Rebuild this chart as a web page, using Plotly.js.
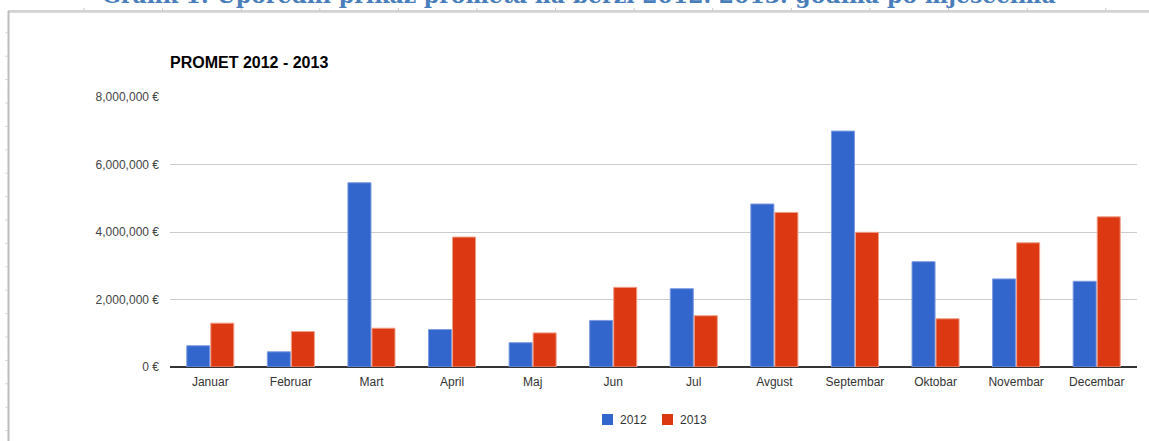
<!DOCTYPE html>
<html>
<head>
<meta charset="utf-8">
<script src="https://cdn.plot.ly/plotly-3.0.1.min.js"></script>
<style>html,body{margin:0;padding:0;background:#fff;}#chart{width:1149px;height:441px;}</style>
</head>
<body>
<div id="chart"></div>
<script>
// ---- data ----
const months = ['Januar','Februar','Mart','April','Maj','Jun','Jul','Avgust','Septembar','Oktobar','Novembar','Decembar'];
const seriesNames = ['2012','2013'];
const seriesColors = ['#3366cc','#dc3912'];
const promet2012 = [630000, 450000, 5460000, 1110000, 720000, 1380000, 2320000, 4830000, 6990000, 3120000, 2610000, 2540000];
const promet2013 = [1300000, 1050000, 1150000, 3850000, 1010000, 2360000, 1520000, 4580000, 3990000, 1430000, 3680000, 4450000];
const yTicks = [0, 2000000, 4000000, 6000000, 8000000];
const yTickText = yTicks.map(v => v.toLocaleString('en-US') + ' \u20AC');
const chartTitle = 'PROMET 2012 - 2013';
const docCaption = 'Grafik 1: Uporedni prikaz prometa na berzi 2012. 2013. godina po mjesecima';

// ---- layout geometry (pixels) ----
const W = 1149, H = 441;
const M = {l: 170, r: 12, t: 97, b: 74, autoexpand: false};
const pw = W - M.l - M.r, ph = H - M.t - M.b;
const px = x => (x - M.l) / pw;
const py = y => (H - M.b - y) / ph;

const FONT = 'Liberation Sans, Arial, sans-serif';

const traces = [
  {type: 'bar', name: seriesNames[0], x: months, y: promet2012,
   marker: {color: seriesColors[0], line: {color: '#7d9be0', width: 1}}},
  {type: 'bar', name: seriesNames[1], x: months, y: promet2013,
   marker: {color: seriesColors[1], line: {color: '#f0a08a', width: 1}}}
];

// page frame decorations (document ruler-like lines)
const shapes = [];
shapes.push({type:'line', xref:'paper', yref:'paper', x0:px(8), x1:px(W), y0:py(11), y1:py(11), line:{color:'#a8a8a8', width:1}});
shapes.push({type:'line', xref:'paper', yref:'paper', x0:px(8), x1:px(W), y0:py(12.5), y1:py(12.5), line:{color:'#dcdcdc', width:1}});
shapes.push({type:'line', xref:'paper', yref:'paper', x0:px(8.5), x1:px(8.5), y0:py(11), y1:py(H), line:{color:'#bdbdbd', width:2}});
for (let k = 0; k < 18; k++) {
  const yy = 32.8 + 23.4 * k;
  shapes.push({type:'line', xref:'paper', yref:'paper', x0:px(5.5), x1:px(7.5), y0:py(yy), y1:py(yy), line:{color:'#c8c8c8', width:1}});
}
for (let k = 0; k < 14; k++) {
  const xx = 84 + 78.6 * k;
  shapes.push({type:'line', xref:'paper', yref:'paper', x0:px(xx), x1:px(xx), y0:py(8), y1:py(11), line:{color:'#c8c8c8', width:1}});
}

// custom legend (compact: small gap between swatch and label)
const legendItems = [{sx: 602, tx: 618}, {sx: 662, tx: 678}];
const annotations = [
  {text: '<b>' + docCaption + '</b>', xref: 'paper', yref: 'paper', x: px(579), y: py(-5), xanchor: 'center', yanchor: 'middle',
   showarrow: false, font: {family: 'DejaVu Serif, serif', size: 22, color: '#4a7ebb'}}
];
legendItems.forEach((it, i) => {
  shapes.push({type: 'rect', xref: 'paper', yref: 'paper', x0: px(it.sx), x1: px(it.sx + 11), y0: py(414), y1: py(425),
               fillcolor: seriesColors[i], line: {width: 0}});
  annotations.push({text: seriesNames[i], xref: 'paper', yref: 'paper', x: px(it.tx), y: py(420), xanchor: 'left', yanchor: 'middle',
                    showarrow: false, font: {family: FONT, size: 12, color: '#333'}});
});

const layout = {
  width: W, height: H,
  margin: M,
  paper_bgcolor: '#ffffff', plot_bgcolor: '#ffffff',
  font: {family: FONT, size: 12, color: '#333'},
  title: {text: '<b>' + chartTitle + '</b>', font: {family: FONT, size: 16, color: '#000'},
          x: 0, xref: 'paper', xanchor: 'left', y: 1 - 62 / H, yref: 'container', yanchor: 'middle'},
  barmode: 'group', bargap: 0.404, bargroupgap: 0.04,
  xaxis: {type: 'category', showgrid: false, showline: false, ticks: '', ticklabelstandoff: 6,
          tickfont: {size: 12, color: '#333'}, fixedrange: true},
  yaxis: {range: [0, 8000000], tickvals: yTicks, ticktext: yTickText,
          showgrid: true, gridcolor: '#cccccc', gridwidth: 1,
          zeroline: true, zerolinecolor: '#333333', zerolinewidth: 1.5,
          showline: false, ticks: '', ticklabelstandoff: 10,
          tickfont: {size: 12, color: '#444'}, fixedrange: true},
  showlegend: false,
  annotations: annotations,
  shapes: shapes
};

Plotly.newPlot('chart', traces, layout, {displayModeBar: false, staticPlot: true});
</script>
</body>
</html>
